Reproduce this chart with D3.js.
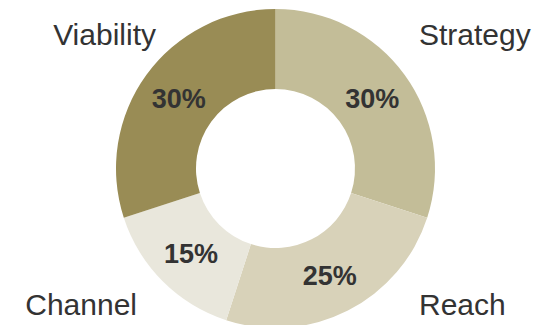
<!DOCTYPE html>
<html>
<head>
<meta charset="utf-8">
<script src="https://cdn.jsdelivr.net/npm/d3@7"></script>
<style>
    body { margin: 0; background: #fff; }
    svg { display: block; }
</style>
</head>
<body>
<div id="chart"></div>
<script>
(function() {
    'use strict';

    // data
    const categories = ["Strategy", "Reach", "Channel", "Viability"];
    const shares = [30, 25, 15, 30];
    const colors = ["#c3bd98", "#d8d2b9", "#e9e7dc", "#998c55"];

    const width = 550;
    const height = 325;
    const cx = 275.5;
    const cy = 168.5;
    const outerR = 159.5;
    const innerR = 79.5;

    // where the category names sit (anchor, x, baseline)
    const nameLayout = {
        "Strategy":  { anchor: "start", x: 419, y: 45 },
        "Reach":     { anchor: "start", x: 419, y: 315 },
        "Channel":   { anchor: "end",   x: 137, y: 315 },
        "Viability": { anchor: "end",   x: 156, y: 45 }
    };

    const pieData = categories.map((c, i) => ({ name: c, value: shares[i], color: colors[i] }));

    const svg = d3.select("#chart")
        .append("svg")
        .attr("width", width)
        .attr("height", height);

    const pie = d3.pie()
        .value(d => d.value)
        .sort(null);

    const arc = d3.arc()
        .innerRadius(innerR)
        .outerRadius(outerR);

    const g = svg.append("g")
        .attr("transform", `translate(${cx}, ${cy})`);

    const arcs = pie(pieData);

    // SLICES
    g.selectAll("path")
        .data(arcs)
        .join("path")
        .attr("d", arc)
        .attr("fill", d => d.data.color);

    // PERCENT LABELS
    g.selectAll("text.pct")
        .data(arcs)
        .join("text")
        .attr("class", "pct")
        .attr("x", d => arc.centroid(d)[0])
        .attr("y", d => arc.centroid(d)[1])
        .attr("dy", "0.36em")
        .attr("text-anchor", "middle")
        .attr("font-family", "Liberation Sans, Arial, sans-serif")
        .attr("font-size", "27px")
        .attr("font-weight", "bold")
        .attr("fill", "#333333")
        .text(d => `${d.data.value}%`);

    // CATEGORY NAMES
    svg.append("g")
        .selectAll("text")
        .data(pieData)
        .join("text")
        .attr("x", d => nameLayout[d.name].x)
        .attr("y", d => nameLayout[d.name].y)
        .attr("text-anchor", d => nameLayout[d.name].anchor)
        .attr("font-family", "Liberation Sans, Arial, sans-serif")
        .attr("font-size", "30px")
        .attr("fill", "#333333")
        .text(d => d.name);
})();
</script>
</body>
</html>
